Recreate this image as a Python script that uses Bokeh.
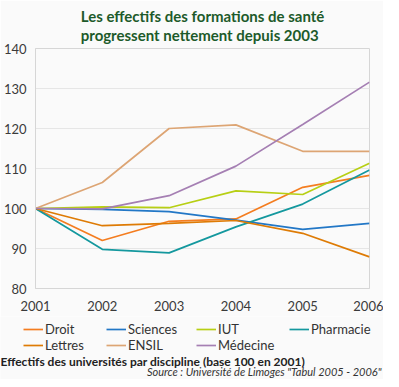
from bokeh.plotting import figure
from bokeh.models import Range1d, FixedTicker, Legend, LegendItem, Label
from bokeh.layouts import column
from bokeh.embed import file_html
from bokeh.resources import INLINE

years = [2001, 2002, 2003, 2004, 2005, 2006]
droit = [100, 92.0, 96.8, 97.4, 105.3, 108.3]
sciences = [100, 99.8, 99.2, 97.1, 94.8, 96.3]
iut = [100, 100.4, 100.2, 104.4, 103.5, 111.3]
pharmacie = [100, 89.8, 88.9, 95.4, 101.1, 109.6]
lettres = [100, 95.7, 96.3, 97.0, 93.8, 87.9]
ensil = [100, 106.5, 120.0, 120.9, 114.3, 114.3]
medecine = [100, 99.9, 103.2, 110.6, 121.0, 131.6]

series = [
    ("Droit", droit, "#F47D20"),
    ("Sciences", sciences, "#2277C6"),
    ("IUT", iut, "#B7CF14"),
    ("Pharmacie", pharmacie, "#14989E"),
    ("Lettres", lettres, "#DE7B05"),
    ("ENSIL", ensil, "#DDA574"),
    ("Médecine", medecine, "#A57FB3"),
]
y_ticks = [80, 90, 100, 110, 120, 130, 140]

title_text = "Les effectifs des formations de santé\nprogressent nettement depuis 2003"
caption = "Effectifs des universités par discipline (base 100 en 2001)"
source = 'Source : Université de Limoges "Tabul 2005 - 2006"'

BG = "#FAFAFA"
W = 383
H1 = 316
H2 = 63

p = figure(width=W, height=H1, output_backend="svg", toolbar_location=None,
           x_range=Range1d(2001, 2006), y_range=Range1d(80, 140),
           background_fill_color=BG, border_fill_color=BG,
           min_border_left=24, min_border_right=14, min_border_top=40, min_border_bottom=28)
p.frame_align = False
p.outline_line_color = "#D6D6D6"

p.title.text = title_text
p.title.align = "center"
p.title.text_font = "Lato"
p.title.text_font_size = "15px"
p.title.text_font_style = "bold"
p.title.text_color = "#1D5A2A"
p.title.text_line_height = 1.1
p.title.standoff = 8

for name, vals, col in series:
    p.line(years, vals, line_color=col, line_width=1.7)

for ax in (p.xaxis[0], p.yaxis[0]):
    ax.axis_line_color = "#D6D6D6"
    ax.major_tick_line_color = None
    ax.minor_tick_line_color = None
    ax.major_label_text_font = "Lato"
    ax.major_label_text_font_size = "13px"
    ax.major_label_text_color = "#3A3A3A"
p.xaxis.ticker = FixedTicker(ticks=years)
p.yaxis.ticker = FixedTicker(ticks=y_ticks)
p.yaxis.major_label_standoff = 3
p.xaxis.major_label_standoff = 6
p.xgrid.grid_line_color = None
p.ygrid.grid_line_color = "#E6E6E6"
p.ygrid.grid_line_width = 1.2

# lower panel: legend, caption and source
q = figure(width=W, height=H2, output_backend="svg", toolbar_location=None,
           x_range=Range1d(0, W), y_range=Range1d(0, H2),
           background_fill_color=BG, border_fill_color=BG,
           min_border=0)
q.frame_align = False
q.axis.visible = False
q.grid.visible = False
q.outline_line_color = None

slots = [(23, 42), (106, 42), (196, 42), (289, 42),
         (23, 26), (106, 26), (196, 26)]
for (name, vals, col), loc in zip(series, slots):
    r = q.line(years, vals, line_color=col, line_width=1.7, visible=False)
    lg = Legend(items=[LegendItem(label=name, renderers=[r])], location=loc,
                background_fill_alpha=0, border_line_color=None,
                inactive_fill_alpha=0,
                label_text_font="Lato", label_text_font_size="13px",
                label_text_color="#333333", glyph_width=20, glyph_height=10,
                spacing=0, label_standoff=2, padding=0, margin=0, label_height=14,
                click_policy="none")
    q.add_layout(lg)

q.add_layout(Label(x=0, y=18, text=caption,
                   text_font="Lato", text_font_style="bold", text_font_size="12px",
                   text_color="#222222", text_baseline="middle"))
q.add_layout(Label(x=381, y=8, text=source,
                   text_font="Lato", text_font_style="italic", text_font_size="11px",
                   text_color="#333333", text_baseline="middle", text_align="right"))

layout = column(p, q, spacing=0)
open("out.html", "w").write(file_html(layout, INLINE))
